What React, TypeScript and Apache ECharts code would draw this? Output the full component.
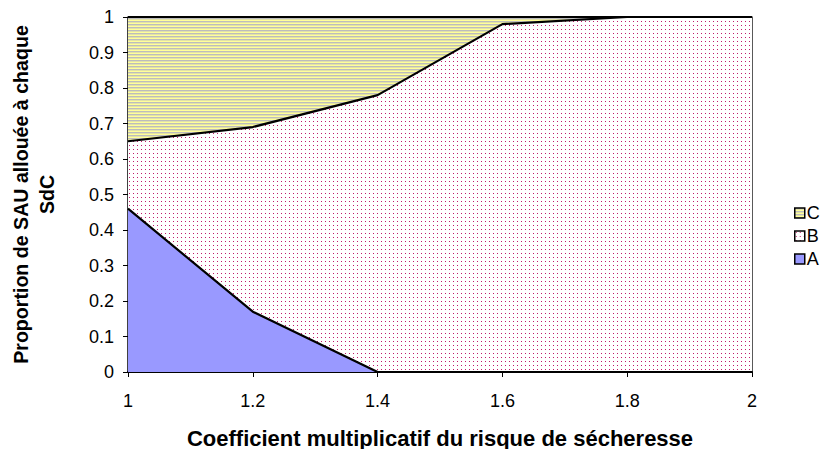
import React, { useEffect, useRef } from "react";
import * as echarts from "echarts";

const xCategories = ["1", "1.2", "1.4", "1.6", "1.8", "2"];
const seriesA = [0.46, 0.17, 0, 0, 0, 0];
const seriesB = [0.19, 0.52, 0.78, 0.98, 1, 1];
const seriesC = [0.35, 0.31, 0.22, 0.02, 0, 0];
const seriesNames = ["A", "B", "C"];
const legendOrder = ["C", "B", "A"];
const xTitle = "Coefficient multiplicatif du risque de sécheresse";
const yTitle = "Proportion de SAU allouée à chaque\nSdC";

const FONT = "'Liberation Sans', Arial, sans-serif";

function makeStripes() {
  const c = document.createElement("canvas");
  c.width = 4;
  c.height = 3;
  const ctx = c.getContext("2d")!;
  ctx.fillStyle = "#bdbdbd";
  ctx.fillRect(0, 0, 4, 1);
  ctx.fillStyle = "#e2e2a8";
  ctx.fillRect(0, 1, 4, 1);
  ctx.fillStyle = "#ffff99";
  ctx.fillRect(0, 2, 4, 1);
  return c;
}

function makeDots() {
  const c = document.createElement("canvas");
  c.width = 4;
  c.height = 4;
  const ctx = c.getContext("2d")!;
  ctx.fillStyle = "#ffffff";
  ctx.fillRect(0, 0, 4, 4);
  ctx.fillStyle = "#c01c6c";
  ctx.fillRect(1, 1, 1, 1);
  return c;
}

export default function App() {
  const ref = useRef<HTMLDivElement>(null);
  useEffect(() => {
    if (!ref.current) return;
    const chart = echarts.init(ref.current, undefined, { renderer: "svg" });
    const stripes = makeStripes();
    const dots = makeDots();
    const fillC: any = { image: stripes, repeat: "repeat", imageWidth: 4, imageHeight: 3 };
    const fillB: any = { image: dots, repeat: "repeat", imageWidth: 4, imageHeight: 4 };
    const fillA = "#9999ff";
    const fills: Record<string, any> = { A: fillA, B: fillB, C: fillC };
    const values: Record<string, number[]> = { A: seriesA, B: seriesB, C: seriesC };

    chart.setOption({
      animation: false,
      backgroundColor: "#ffffff",
      textStyle: { fontFamily: FONT },
      grid: { left: 128, right: 83, top: 17, bottom: 85, containLabel: false },
      legend: {
        orient: "vertical",
        left: 789,
        top: 199,
        icon: "rect",
        itemWidth: 10,
        itemHeight: 10,
        itemGap: 5,
        textStyle: { fontSize: 18, color: "#000", fontFamily: FONT, padding: [0, 0, 0, -3] },
        data: legendOrder.map((n) => ({
          name: n,
          itemStyle: { color: fills[n], borderColor: "#000", borderWidth: 1.5 },
        })),
      },
      xAxis: {
        type: "category",
        data: xCategories,
        boundaryGap: false,
        name: xTitle,
        nameLocation: "middle",
        nameGap: 55,
        nameTextStyle: { fontSize: 22, fontWeight: "bold", color: "#000", fontFamily: FONT },
        axisLine: { show: true, lineStyle: { color: "#000", width: 2 } },
        axisTick: { show: true, length: 5, alignWithLabel: true, lineStyle: { color: "#000" } },
        axisLabel: { fontSize: 18, color: "#000", margin: 20, fontFamily: FONT },
        splitLine: { show: false },
      },
      yAxis: [
        {
          type: "value",
          min: 0,
          max: 1,
          interval: 0.1,
          name: yTitle,
          nameLocation: "middle",
          nameGap: 68,
          nameTextStyle: { fontSize: 19.6, fontWeight: "bold", color: "#000", fontFamily: FONT, lineHeight: 26 },
          axisLine: { show: true, lineStyle: { color: "#000", width: 1.5 } },
          axisTick: { show: true, length: 5, lineStyle: { color: "#000" } },
          axisLabel: { fontSize: 18, color: "#000", margin: 14, fontFamily: FONT },
          splitLine: { show: false },
        },
        {
          type: "value",
          min: 0,
          max: 1,
          interval: 0.1,
          position: "right",
          axisLine: { show: true, lineStyle: { color: "#222", width: 1.5 } },
          axisTick: { show: false },
          axisLabel: { show: false },
          splitLine: { show: false },
        },
      ],
      series: seriesNames.map((n) => ({
        name: n,
        type: "line",
        stack: "total",
        symbol: "none",
        data: values[n],
        lineStyle: { color: "#000", width: 2.2 },
        itemStyle: { color: n === "A" ? fillA : "#000" },
        areaStyle: { color: fills[n], opacity: 1 },
        z: 2,
      })),
    });
    return () => chart.dispose();
  }, []);
  return <div ref={ref} style={{ width: 835, height: 457, margin: -8 }} />;
}
